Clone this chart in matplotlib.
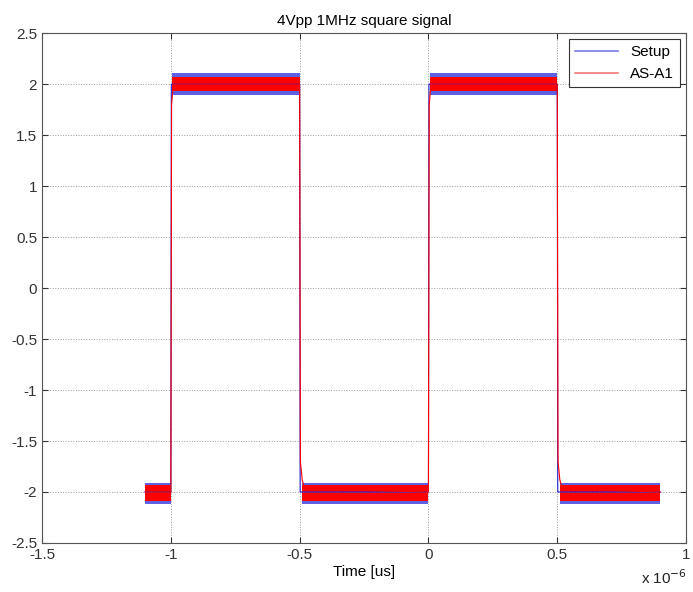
import numpy as np
import matplotlib.pyplot as plt
from matplotlib.ticker import FuncFormatter

plt.rcParams['font.family'] = ['Liberation Sans', 'DejaVu Sans']

# time in microseconds, voltage in V
setup_t = [-1.1, -1.0, -0.998, -0.5, -0.498, 0.0, 0.002, 0.5, 0.502, 0.9]
setup_v = [-2.0, -2.0, 2.0, 2.0, -2.0, -2.0, 2.0, 2.0, -2.0, -2.0]

asa1_t = [-1.1, -1.0, -0.997, -0.99, -0.5, -0.497, -0.49, -0.48,
          0.0, 0.003, 0.01, 0.5, 0.503, 0.51, 0.52, 0.9]
asa1_v = [-2.0, -2.0, 1.8, 2.0, 2.0, -1.7, -1.88, -1.97,
          -2.0, 1.8, 2.0, 2.0, -1.7, -1.88, -1.97, -2.0]

# plateaus: start, end, and noise envelope (min, max) of each trace
plat_start = [-1.1, -0.995, -0.49, 0.005, 0.51]
plat_end = [-1.0, -0.5, 0.0, 0.5, 0.9]
setup_lo = [-2.12, 1.89, -2.12, 1.89, -2.12]
setup_hi = [-1.91, 2.11, -1.91, 2.11, -1.91]
asa1_lo = [-2.09, 1.93, -2.09, 1.93, -2.09]
asa1_hi = [-1.93, 2.07, -1.93, 2.07, -1.93]

us = 1e-6

fig = plt.figure(figsize=(6.93, 5.92), dpi=100)
ax = fig.add_axes([0.0606, 0.0828, 0.9294, 0.8612])

for s, e, lo, hi in zip(plat_start, plat_end, setup_lo, setup_hi):
    ax.fill_between([s * us, e * us], lo, hi, color='#2a2ad8', alpha=0.75, lw=0)
for s, e, lo, hi in zip(plat_start, plat_end, asa1_lo, asa1_hi):
    ax.fill_between([s * us, e * us], lo, hi, color='#ff0000', lw=0)

ax.plot(np.array(setup_t) * us, setup_v, color='#2020d0', lw=0.8, label='Setup')
ax.plot(np.array(asa1_t) * us, asa1_v, color='#ff0000', lw=0.8, label='AS-A1')

ax.set_xlim(-1.5 * us, 1.0 * us)
ax.set_ylim(-2.5, 2.5)
ax.set_xticks(np.arange(-1.5, 1.01, 0.5) * us)
ax.set_yticks(np.arange(-2.5, 2.51, 0.5))
ax.xaxis.set_major_formatter(FuncFormatter(lambda v, p: f"{v / us:g}"))
ax.yaxis.set_major_formatter(FuncFormatter(lambda v, p: f"{v:g}"))
ax.tick_params(direction='in', labelsize=11, colors='#333333', length=4,
               top=True, right=True)
ax.grid(True, linestyle=':', color='#999999', lw=0.7)
for sp in ax.spines.values():
    sp.set_color('#555555')

ax.set_title('4Vpp 1MHz square signal', fontsize=11, pad=6)
ax.set_xlabel('Time [us]', fontsize=11, labelpad=2)
fig.text(0.958, 0.014, r'x 10$^{-6}$', fontsize=11, ha='center', color='#222222')

leg = ax.legend(loc='upper right', fontsize=11, fancybox=False, framealpha=1,
                edgecolor='#333333', handlelength=2.8, borderaxespad=0.4)
leg.get_frame().set_linewidth(0.8)
for h, c in zip(leg.legend_handles, ['#7878e8', '#f07878']):
    h.set_color(c)
    h.set_linewidth(1.2)

fig.savefig('out.png', dpi=100)
